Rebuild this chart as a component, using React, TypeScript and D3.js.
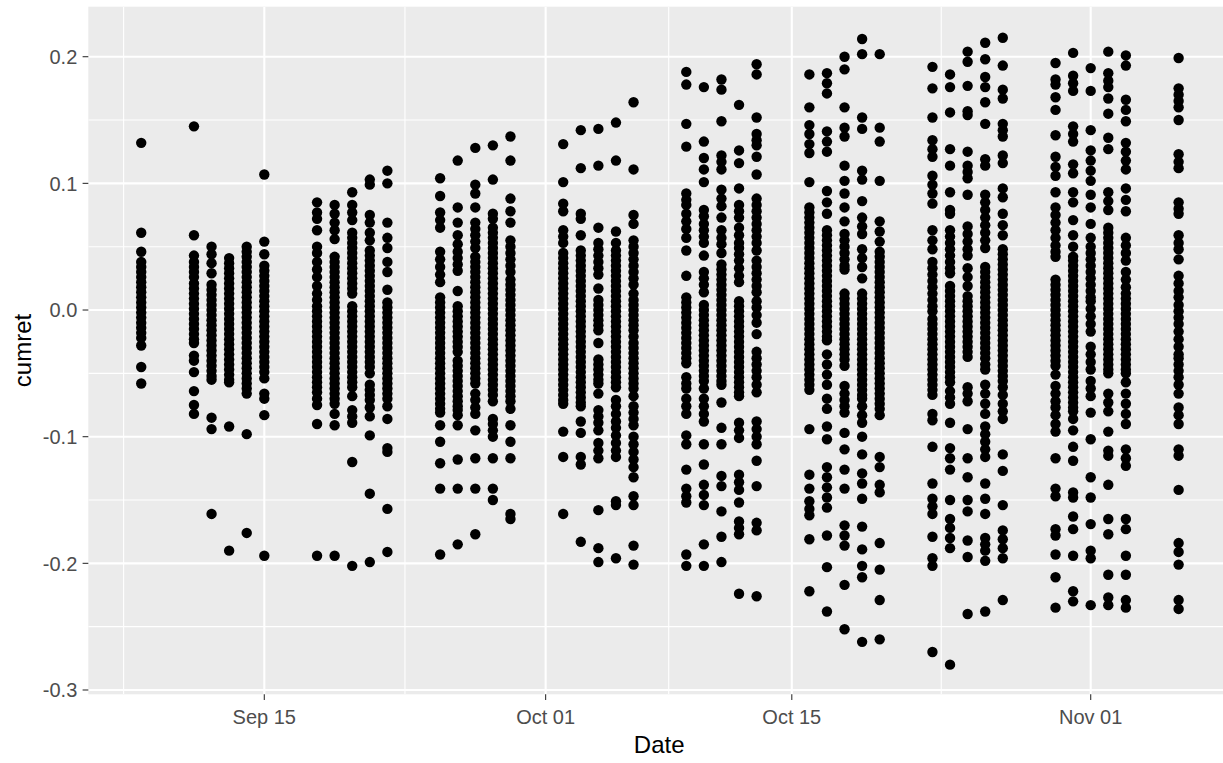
import React from "react";
import * as d3 from "d3";

// Trading days (x) and cumulative returns per day (y)
const tradingDays = [
  "2017-09-08",
  "2017-09-11", "2017-09-12", "2017-09-13", "2017-09-14", "2017-09-15",
  "2017-09-18", "2017-09-19", "2017-09-20", "2017-09-21", "2017-09-22",
  "2017-09-25", "2017-09-26", "2017-09-27", "2017-09-28", "2017-09-29",
  "2017-10-02", "2017-10-03", "2017-10-04", "2017-10-05", "2017-10-06",
  "2017-10-09", "2017-10-10", "2017-10-11", "2017-10-12", "2017-10-13",
  "2017-10-16", "2017-10-17", "2017-10-18", "2017-10-19", "2017-10-20",
  "2017-10-23", "2017-10-24", "2017-10-25", "2017-10-26", "2017-10-27",
  "2017-10-30", "2017-10-31", "2017-11-01", "2017-11-02", "2017-11-03",
  "2017-11-06",
];

const cumret: number[][] = [
  // Sep 08
  [.132,.061,.046,.038,.034,.030,.026,.022,.018,.014,.010,.006,.002,-.002,-.006,-.010,-.014,-.018,-.022,-.028,-.045,-.058],
  // Sep 11
  [.145,.059,.043,.038,.034,.030,.026,.021,.017,.013,.009,.005,.001,-.003,-.007,-.011,-.015,-.019,-.023,-.026,-.036,-.040,-.049,-.064,-.075,-.082],
  // Sep 12
  [.050,.044,.037,.029,.020,.016,.012,.008,.004,0,-.004,-.008,-.012,-.016,-.020,-.024,-.028,-.032,-.036,-.040,-.044,-.048,-.052,-.055,-.085,-.094,-.161],
  // Sep 13
  [.041,.037,.033,.029,.025,.021,.017,.013,.009,.005,.001,-.003,-.007,-.011,-.015,-.019,-.023,-.027,-.031,-.035,-.039,-.043,-.047,-.051,-.055,-.057,-.092,-.190],
  // Sep 14
  [.050,.046,.042,.038,.034,.030,.026,.022,.018,.014,.010,.006,.002,-.002,-.006,-.010,-.014,-.018,-.022,-.026,-.030,-.034,-.038,-.042,-.046,-.050,-.054,-.058,-.062,-.066,-.098,-.176],
  // Sep 15
  [.107,.054,.044,.035,.031,.027,.023,.019,.015,.011,.007,.003,-.001,-.005,-.009,-.013,-.017,-.021,-.025,-.029,-.033,-.037,-.041,-.045,-.049,-.054,-.066,-.070,-.083,-.194],
  // Sep 18
  [.085,.077,.072,.063,.050,.045,.038,.032,.026,.019,.013,.008,.003,-.001,-.005,-.009,-.013,-.017,-.021,-.025,-.029,-.033,-.037,-.041,-.045,-.049,-.053,-.057,-.061,-.065,-.070,-.075,-.090,-.194],
  // Sep 19
  [.083,.076,.069,.063,.056,.042,.038,.034,.030,.026,.022,.018,.014,.010,.006,.002,-.002,-.006,-.010,-.014,-.018,-.022,-.026,-.030,-.034,-.038,-.042,-.046,-.050,-.054,-.058,-.062,-.066,-.070,-.074,-.082,-.091,-.194],
  // Sep 20
  [.093,.083,.077,.071,.061,.057,.053,.049,.045,.041,.037,.033,.029,.025,.021,.017,.013,.003,-.001,-.005,-.009,-.013,-.017,-.021,-.025,-.029,-.033,-.037,-.041,-.045,-.049,-.053,-.057,-.061,-.068,-.079,-.084,-.089,-.120,-.202],
  // Sep 21
  [.103,.099,.075,.069,.061,.055,.047,.043,.039,.035,.031,.027,.023,.019,.015,.011,.007,.003,-.001,-.005,-.009,-.013,-.017,-.021,-.025,-.029,-.033,-.037,-.041,-.045,-.050,-.059,-.063,-.067,-.071,-.077,-.084,-.099,-.145,-.199],
  // Sep 22
  [.110,.100,.069,.057,.049,.038,.030,.016,.006,.002,-.002,-.006,-.010,-.014,-.018,-.022,-.026,-.030,-.034,-.038,-.042,-.046,-.050,-.054,-.058,-.062,-.066,-.070,-.076,-.086,-.109,-.112,-.157,-.191],
  // Sep 25
  [.104,.090,.077,.071,.065,.046,.040,.034,.028,.022,.010,.006,.002,-.002,-.006,-.010,-.014,-.018,-.022,-.026,-.030,-.034,-.038,-.042,-.046,-.050,-.054,-.058,-.062,-.066,-.070,-.074,-.078,-.081,-.091,-.104,-.121,-.141,-.193],
  // Sep 26
  [.118,.081,.069,.059,.052,.046,.041,.036,.031,.015,.003,-.001,-.005,-.009,-.013,-.017,-.021,-.025,-.029,-.033,-.040,-.044,-.048,-.052,-.056,-.060,-.064,-.068,-.072,-.076,-.079,-.083,-.091,-.118,-.141,-.185],
  // Sep 27
  [.128,.099,.092,.081,.069,.064,.059,.054,.049,.042,.038,.034,.030,.026,.022,.018,.014,.010,.006,.002,-.002,-.006,-.010,-.014,-.018,-.022,-.026,-.030,-.034,-.038,-.042,-.046,-.050,-.054,-.058,-.066,-.071,-.077,-.082,-.095,-.117,-.141,-.177],
  // Sep 28
  [.130,.103,.076,.072,.065,.061,.057,.053,.049,.045,.041,.037,.033,.029,.025,.021,.017,.013,.009,.005,.001,-.003,-.007,-.011,-.015,-.019,-.023,-.027,-.031,-.035,-.039,-.043,-.047,-.051,-.055,-.059,-.063,-.067,-.072,-.086,-.090,-.095,-.100,-.117,-.141,-.150],
  // Sep 29
  [.137,.118,.088,.078,.069,.055,.050,.045,.040,.035,.030,.024,.020,.016,.012,.008,.004,0,-.004,-.008,-.012,-.016,-.020,-.024,-.028,-.032,-.036,-.040,-.044,-.048,-.052,-.056,-.060,-.064,-.068,-.072,-.078,-.091,-.104,-.117,-.161,-.165],
  // Oct 02
  [.131,.101,.084,.078,.063,.058,.053,.045,.041,.037,.033,.029,.025,.021,.017,.013,.009,.005,.001,-.003,-.007,-.011,-.015,-.019,-.023,-.027,-.031,-.035,-.039,-.043,-.047,-.051,-.055,-.059,-.063,-.067,-.071,-.074,-.096,-.116,-.161],
  // Oct 03
  [.142,.112,.076,.072,.059,.047,.043,.039,.035,.031,.027,.023,.019,.015,.011,.007,.003,-.001,-.005,-.009,-.013,-.017,-.021,-.025,-.029,-.033,-.037,-.041,-.045,-.049,-.053,-.057,-.061,-.065,-.069,-.073,-.076,-.088,-.097,-.116,-.122,-.183],
  // Oct 04
  [.143,.114,.065,.053,.048,.043,.038,.033,.028,.017,.008,.004,0,-.004,-.008,-.012,-.016,-.026,-.039,-.043,-.047,-.051,-.055,-.058,-.066,-.079,-.084,-.089,-.095,-.105,-.111,-.117,-.158,-.188,-.199],
  // Oct 05
  [.148,.118,.062,.053,.047,.043,.039,.035,.031,.027,.023,.019,.015,.011,.007,.003,-.001,-.005,-.009,-.013,-.017,-.021,-.025,-.029,-.033,-.037,-.041,-.045,-.049,-.053,-.057,-.061,-.071,-.076,-.082,-.088,-.093,-.099,-.105,-.111,-.116,-.151,-.154,-.196],
  // Oct 06
  [.164,.111,.075,.068,.055,.050,.045,.040,.035,.030,.025,.020,.013,.008,.004,0,-.004,-.008,-.012,-.016,-.021,-.026,-.030,-.034,-.038,-.042,-.046,-.050,-.054,-.058,-.062,-.068,-.076,-.081,-.086,-.091,-.100,-.106,-.112,-.118,-.124,-.132,-.147,-.154,-.186,-.201],
  // Oct 09
  [.188,.178,.147,.129,.092,.087,.083,.076,.070,.064,.057,.047,.027,.010,.006,.002,-.002,-.006,-.010,-.014,-.018,-.022,-.026,-.030,-.034,-.038,-.042,-.053,-.058,-.062,-.070,-.076,-.082,-.099,-.106,-.126,-.141,-.147,-.152,-.193,-.202],
  // Oct 10
  [.176,.133,.120,.111,.101,.079,.074,.068,.063,.058,.053,.043,.030,.025,.020,.014,.004,0,-.004,-.008,-.012,-.016,-.020,-.024,-.028,-.032,-.036,-.040,-.044,-.048,-.052,-.056,-.062,-.070,-.076,-.082,-.088,-.106,-.122,-.138,-.146,-.154,-.185,-.202],
  // Oct 11
  [.182,.174,.149,.122,.117,.111,.095,.088,.082,.073,.063,.057,.052,.045,.036,.032,.028,.024,.020,.016,.012,.008,.004,0,-.004,-.008,-.012,-.016,-.020,-.024,-.028,-.032,-.036,-.040,-.044,-.048,-.052,-.056,-.059,-.073,-.093,-.106,-.131,-.139,-.159,-.179,-.199],
  // Oct 12
  [.162,.126,.116,.096,.083,.078,.073,.065,.059,.053,.049,.044,.039,.033,.027,.022,.007,.003,-.001,-.005,-.009,-.013,-.017,-.021,-.025,-.029,-.033,-.037,-.041,-.045,-.049,-.053,-.057,-.061,-.065,-.068,-.089,-.095,-.101,-.130,-.136,-.142,-.152,-.167,-.172,-.177,-.224],
  // Oct 13
  [.194,.186,.152,.139,.134,.130,.121,.107,.088,.083,.078,.073,.068,.063,.058,.053,.047,.039,.034,.029,.024,.019,.014,.007,.002,-.004,-.010,-.019,-.033,-.038,-.043,-.048,-.053,-.059,-.065,-.088,-.094,-.100,-.106,-.119,-.139,-.168,-.174,-.226],
  // Oct 16
  [.186,.160,.146,.139,.131,.124,.101,.081,.077,.073,.069,.065,.061,.057,.053,.049,.045,.041,.037,.033,.029,.025,.021,.017,.013,.009,.005,.001,-.003,-.007,-.011,-.015,-.019,-.023,-.027,-.031,-.035,-.039,-.043,-.047,-.051,-.055,-.059,-.063,-.094,-.130,-.141,-.151,-.157,-.162,-.181,-.222],
  // Oct 17
  [.187,.179,.171,.141,.133,.125,.094,.085,.076,.063,.059,.055,.051,.047,.043,.039,.035,.031,.027,.023,.019,.015,.011,.007,.003,-.001,-.005,-.009,-.013,-.017,-.021,-.024,-.035,-.043,-.051,-.059,-.070,-.078,-.092,-.102,-.124,-.132,-.140,-.148,-.156,-.178,-.203,-.238],
  // Oct 18
  [.200,.190,.160,.144,.137,.114,.102,.092,.081,.070,.060,.055,.050,.045,.040,.035,.032,.013,.009,.005,.001,-.003,-.007,-.011,-.015,-.019,-.023,-.027,-.031,-.035,-.039,-.044,-.060,-.066,-.071,-.076,-.081,-.097,-.110,-.126,-.141,-.170,-.178,-.186,-.217,-.252],
  // Oct 19
  [.214,.202,.152,.143,.110,.103,.086,.073,.066,.060,.048,.041,.034,.025,.013,.009,.005,.001,-.003,-.007,-.011,-.015,-.019,-.023,-.027,-.031,-.035,-.039,-.043,-.047,-.051,-.055,-.059,-.063,-.067,-.070,-.076,-.083,-.089,-.100,-.114,-.129,-.137,-.149,-.171,-.189,-.202,-.211,-.262],
  // Oct 20
  [.202,.144,.133,.102,.070,.062,.054,.046,.042,.038,.034,.030,.026,.022,.018,.014,.010,.006,.002,-.002,-.006,-.010,-.014,-.018,-.022,-.026,-.030,-.034,-.038,-.042,-.046,-.050,-.054,-.058,-.062,-.066,-.070,-.074,-.078,-.083,-.116,-.124,-.138,-.144,-.184,-.205,-.229,-.260],
  // Oct 23
  [.192,.175,.152,.134,.127,.121,.106,.099,.092,.084,.063,.055,.048,.038,.033,.028,.023,.018,.013,.008,.003,-.001,-.007,-.011,-.015,-.019,-.023,-.027,-.031,-.035,-.039,-.043,-.047,-.051,-.055,-.059,-.063,-.067,-.082,-.087,-.108,-.137,-.149,-.155,-.161,-.179,-.196,-.202,-.270],
  // Oct 24
  [.186,.176,.156,.127,.114,.093,.079,.076,.063,.058,.053,.048,.043,.038,.033,.029,.019,.015,.011,.007,.003,-.001,-.005,-.009,-.013,-.017,-.021,-.025,-.029,-.033,-.037,-.041,-.045,-.049,-.053,-.057,-.064,-.069,-.074,-.089,-.109,-.117,-.126,-.150,-.165,-.172,-.180,-.188,-.280],
  // Oct 25
  [.204,.196,.177,.157,.154,.125,.114,.109,.104,.091,.066,.060,.054,.048,.043,.033,.026,.019,.011,.007,.003,-.001,-.005,-.009,-.013,-.017,-.021,-.025,-.029,-.033,-.037,-.061,-.066,-.072,-.094,-.117,-.132,-.150,-.159,-.182,-.195,-.240],
  // Oct 26
  [.211,.198,.184,.176,.164,.147,.119,.114,.091,.085,.079,.073,.067,.061,.055,.049,.034,.030,.026,.022,.018,.014,.010,.006,.002,-.002,-.006,-.010,-.014,-.018,-.022,-.026,-.030,-.034,-.038,-.043,-.047,-.059,-.066,-.074,-.082,-.092,-.098,-.104,-.110,-.116,-.137,-.149,-.161,-.180,-.185,-.190,-.198,-.238],
  // Oct 27
  [.215,.193,.174,.167,.147,.142,.137,.122,.116,.096,.089,.076,.067,.059,.048,.044,.040,.036,.032,.028,.024,.020,.016,.012,.008,.004,0,-.004,-.008,-.012,-.016,-.020,-.024,-.028,-.032,-.036,-.040,-.044,-.048,-.052,-.056,-.061,-.067,-.074,-.080,-.086,-.114,-.127,-.154,-.174,-.181,-.188,-.196,-.229],
  // Oct 30
  [.195,.182,.178,.168,.158,.138,.121,.113,.106,.093,.081,.075,.069,.063,.057,.051,.046,.042,.024,.020,.016,.012,.008,.004,0,-.004,-.008,-.012,-.016,-.020,-.024,-.028,-.032,-.036,-.040,-.044,-.051,-.060,-.066,-.072,-.077,-.083,-.090,-.096,-.117,-.141,-.147,-.173,-.178,-.193,-.211,-.235],
  // Oct 31
  [.203,.185,.179,.173,.145,.139,.133,.115,.108,.093,.085,.071,.059,.050,.042,.039,.035,.031,.027,.023,.019,.015,.011,.007,.003,-.001,-.005,-.009,-.013,-.017,-.021,-.025,-.029,-.033,-.037,-.041,-.045,-.049,-.053,-.057,-.061,-.065,-.069,-.073,-.077,-.080,-.086,-.095,-.108,-.119,-.144,-.148,-.163,-.173,-.194,-.222,-.230],
  // Nov 01
  [.191,.173,.142,.126,.118,.110,.102,.091,.081,.068,.057,.050,.045,.040,.035,.030,.025,.020,.015,.010,.007,.001,-.005,-.011,-.017,-.029,-.035,-.041,-.047,-.056,-.062,-.068,-.081,-.102,-.132,-.148,-.169,-.190,-.196,-.233],
  // Nov 02
  [.204,.187,.181,.176,.167,.155,.136,.127,.093,.086,.079,.065,.061,.057,.053,.049,.045,.041,.037,.033,.029,.025,.021,.017,.013,.009,.005,.001,-.003,-.007,-.011,-.015,-.019,-.023,-.027,-.031,-.035,-.039,-.043,-.047,-.050,-.066,-.073,-.080,-.096,-.111,-.115,-.138,-.165,-.177,-.209,-.227,-.233],
  // Nov 03
  [.201,.193,.166,.158,.149,.132,.125,.118,.111,.096,.087,.078,.057,.051,.045,.039,.030,.024,.018,.013,.009,.005,.001,-.003,-.007,-.011,-.015,-.019,-.023,-.027,-.031,-.035,-.039,-.043,-.047,-.050,-.057,-.066,-.074,-.082,-.090,-.110,-.117,-.123,-.165,-.173,-.194,-.209,-.229,-.235],
  // Nov 06
  [.199,.175,.170,.165,.160,.150,.123,.117,.112,.085,.080,.076,.059,.053,.048,.040,.027,.021,.015,.010,.004,-.001,-.006,-.011,-.017,-.023,-.029,-.035,-.038,-.043,-.048,-.053,-.059,-.066,-.077,-.083,-.090,-.110,-.115,-.142,-.184,-.191,-.201,-.229,-.236],
];

const yMajorTicks = [-0.3, -0.2, -0.1, 0, 0.1, 0.2];
const yMajorLabels = ["-0.3", "-0.2", "-0.1", "0.0", "0.1", "0.2"];
const yMinorTicks = [-0.25, -0.15, -0.05, 0.05, 0.15];
const xMajorTicks = ["2017-09-15T00:00:00Z", "2017-10-01T00:00:00Z", "2017-10-15T00:00:00Z", "2017-11-01T00:00:00Z"];
const xMajorLabels = ["Sep 15", "Oct 01", "Oct 15", "Nov 01"];
const xMinorTicks = ["2017-09-07T00:00:00Z", "2017-09-23T00:00:00Z", "2017-10-08T00:00:00Z", "2017-10-23T12:00:00Z"];

const toDate = (s: string) => new Date(s.length === 10 ? s + "T00:00:00Z" : s);

export default function App() {
  const W = 1223;
  const H = 763;
  const panel = { left: 88.3, top: 6.7, right: 1223, bottom: 694.3 };

  const x = d3
    .scaleUtc()
    .domain([toDate("2017-09-15"), toDate("2017-11-01")])
    .range([264.3, 1090.7]);
  const y = d3.scaleLinear().domain([-0.3, 0.2]).range([690, 56.7]);

  const font = "'Liberation Sans', Arial, sans-serif";
  const points: { cx: number; cy: number }[] = [];
  tradingDays.forEach((d, i) => {
    const cx = x(toDate(d));
    cumret[i].forEach((v) => points.push({ cx, cy: y(v) }));
  });

  return (
    <div style={{ position: "absolute", left: 0, top: 0 }}>
      <svg width={W} height={H} style={{ display: "block", background: "#fff" }}>
        <defs>
          <clipPath id="panel-clip">
            <rect x={panel.left} y={panel.top} width={panel.right - panel.left} height={panel.bottom - panel.top} />
          </clipPath>
        </defs>
        <rect x={panel.left} y={panel.top} width={panel.right - panel.left} height={panel.bottom - panel.top} fill="#EBEBEB" />
        <g clipPath="url(#panel-clip)">
          {yMinorTicks.map((t) => (
            <line key={"ym" + t} x1={panel.left} x2={panel.right} y1={y(t)} y2={y(t)} stroke="#fff" strokeWidth={1.1} />
          ))}
          {xMinorTicks.map((t) => (
            <line key={"xm" + t} x1={x(toDate(t))} x2={x(toDate(t))} y1={panel.top} y2={panel.bottom} stroke="#fff" strokeWidth={1.1} />
          ))}
          {yMajorTicks.map((t) => (
            <line key={"yM" + t} x1={panel.left} x2={panel.right} y1={y(t)} y2={y(t)} stroke="#fff" strokeWidth={2.1} />
          ))}
          {xMajorTicks.map((t) => (
            <line key={"xM" + t} x1={x(toDate(t))} x2={x(toDate(t))} y1={panel.top} y2={panel.bottom} stroke="#fff" strokeWidth={2.1} />
          ))}
          {points.map((p, i) => (
            <circle key={i} cx={p.cx} cy={p.cy} r={5.2} fill="#000" />
          ))}
        </g>
        {/* y axis */}
        {yMajorTicks.map((t, i) => (
          <g key={"yt" + t}>
            <line x1={panel.left - 5.7} x2={panel.left} y1={y(t)} y2={y(t)} stroke="#333" strokeWidth={1.1} />
            <text x={77.3} y={y(t)} dy="0.36em" textAnchor="end" fontFamily={font} fontSize={20} fill="#4D4D4D">
              {yMajorLabels[i]}
            </text>
          </g>
        ))}
        {/* x axis */}
        {xMajorTicks.map((t, i) => (
          <g key={"xt" + t}>
            <line x1={x(toDate(t))} x2={x(toDate(t))} y1={panel.bottom} y2={panel.bottom + 5.7} stroke="#333" strokeWidth={1.1} />
            <text x={x(toDate(t))} y={724} textAnchor="middle" fontFamily={font} fontSize={20} fill="#4D4D4D">
              {xMajorLabels[i]}
            </text>
          </g>
        ))}
        <text x={(panel.left + 1230) / 2} y={753} textAnchor="middle" fontFamily={font} fontSize={24} fill="#000">
          Date
        </text>
        <text
          transform={`translate(31, ${(panel.top + panel.bottom) / 2}) rotate(-90)`}
          textAnchor="middle"
          fontFamily={font}
          fontSize={24}
          fill="#000"
        >
          cumret
        </text>
      </svg>
    </div>
  );
}
